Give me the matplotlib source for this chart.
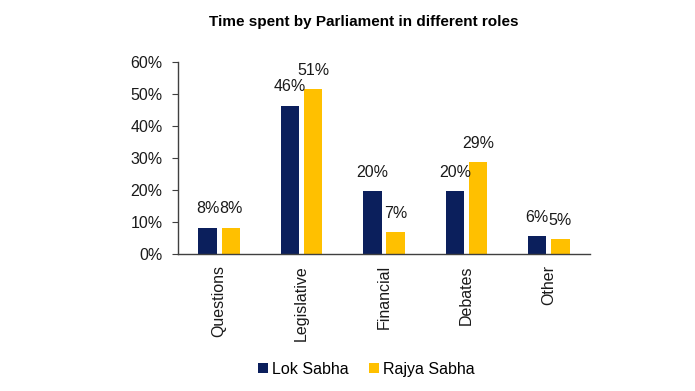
import numpy as np
import matplotlib.pyplot as plt
from matplotlib.ticker import PercentFormatter

plt.rcParams['font.family'] = ['Liberation Sans', 'DejaVu Sans']

# Datos
categorias = ["Questions", "Legislative", "Financial", "Debates", "Other"]
lok_sabha = [8.3, 46.3, 19.6, 19.6, 5.6]
rajya_sabha = [8.3, 51.4, 6.9, 28.7, 4.6]
etiquetas_lok = ["8%", "46%", "20%", "20%", "6%"]
etiquetas_rajya = ["8%", "51%", "7%", "29%", "5%"]

azul = "#0b1f5c"
dorado = "#ffc000"

fig = plt.figure(figsize=(6.95, 3.91), dpi=100)
ax = fig.add_axes([0.256, 0.350, 0.593, 0.492])

x = np.arange(len(categorias))
ancho = 0.222
desp = 0.141

b1 = ax.bar(x - desp, lok_sabha, ancho, color=azul, label="Lok Sabha")
b2 = ax.bar(x + desp, rajya_sabha, ancho, color=dorado, label="Rajya Sabha")

for barras, textos in [(b1, etiquetas_lok), (b2, etiquetas_rajya)]:
    for b, t in zip(barras, textos):
        ax.annotate(t, (b.get_x() + b.get_width() / 2, b.get_height()),
                    xytext=(0, 19), textcoords="offset pixels",
                    ha="center", va="center", fontsize=11.5, color="#1a1a1a")

ax.set_xlim(-0.5, len(categorias) - 0.5)
ax.set_ylim(0, 60)
ax.set_yticks(np.arange(0, 61, 10))
ax.yaxis.set_major_formatter(PercentFormatter(decimals=0))
ax.set_xticks(x)
ax.set_xticklabels(categorias, rotation=90)

for s in ["top", "right"]:
    ax.spines[s].set_visible(False)
for s in ["left", "bottom"]:
    ax.spines[s].set_color("#404040")
    ax.spines[s].set_linewidth(1.0)
ax.tick_params(axis="y", labelsize=11.5, length=4, color="#404040", pad=7, labelcolor="#1a1a1a")
ax.tick_params(axis="x", labelsize=11.5, length=0, pad=8, labelcolor="#1a1a1a")

fig.text(0.523, 0.944, "Time spent by Parliament in different roles",
         ha="center", va="center", fontsize=11, fontweight="bold")

fig.legend(loc="center", bbox_to_anchor=(0.527, 0.055), ncol=2, frameon=False,
           fontsize=11.5, handlelength=0.6, handleheight=0.6, handletextpad=0.25,
           columnspacing=1.3)

fig.savefig("out.png", dpi=100)
